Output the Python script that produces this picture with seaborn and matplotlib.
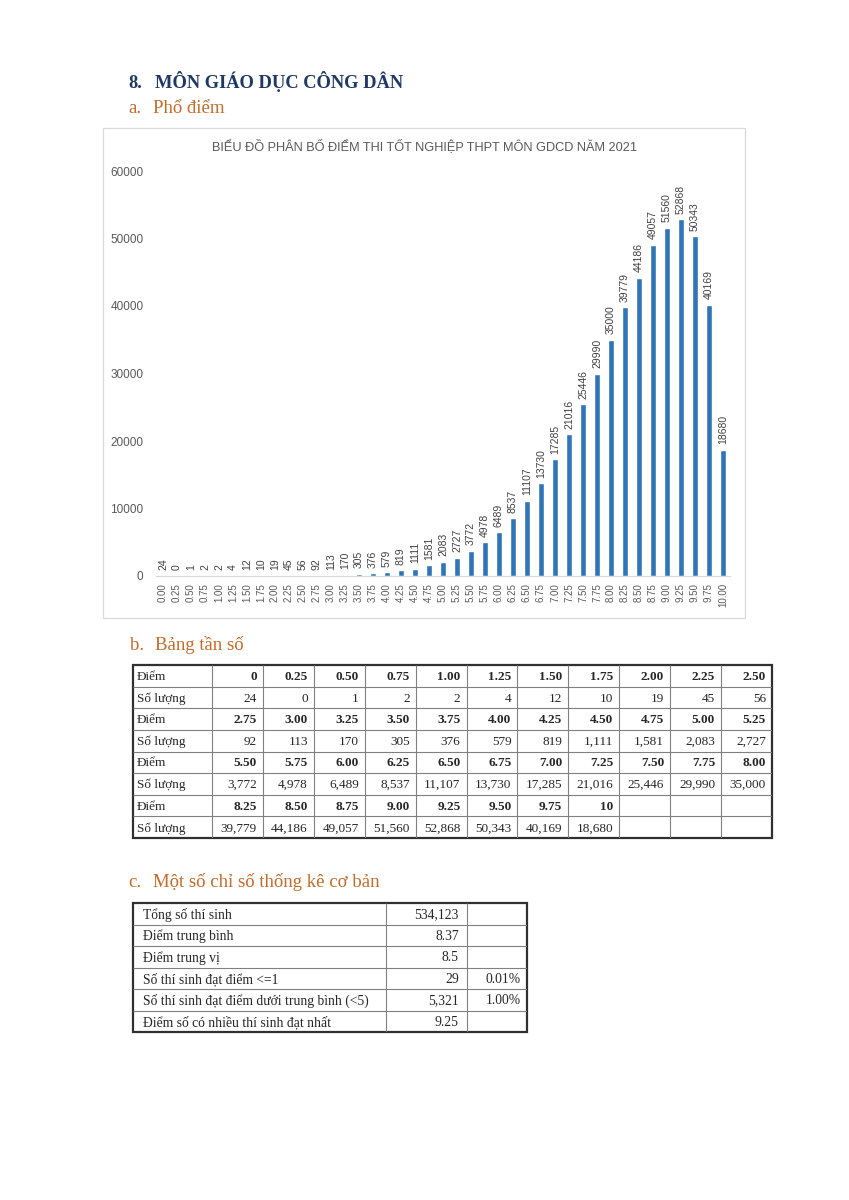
import numpy as np
import pandas as pd
import matplotlib
matplotlib.use("Agg")
import matplotlib.pyplot as plt
import seaborn as sns
from matplotlib.patches import Rectangle

sns.set_style("white")
plt.rcParams["font.family"] = ["Liberation Sans", "DejaVu Sans"]
SERIF = ["Liberation Serif", "DejaVu Serif"]

# ---- data ----
score_labels = ["0.00", "0.25", "0.50", "0.75", "1.00", "1.25", "1.50", "1.75",
                "2.00", "2.25", "2.50", "2.75", "3.00", "3.25", "3.50", "3.75",
                "4.00", "4.25", "4.50", "4.75", "5.00", "5.25", "5.50", "5.75",
                "6.00", "6.25", "6.50", "6.75", "7.00", "7.25", "7.50", "7.75",
                "8.00", "8.25", "8.50", "8.75", "9.00", "9.25", "9.50", "9.75",
                "10.00"]
counts = [24, 0, 1, 2, 2, 4, 12, 10, 19, 45,
          56, 92, 113, 170, 305, 376, 579, 819, 1111, 1581,
          2083, 2727, 3772, 4978, 6489, 8537, 11107, 13730, 17285, 21016,
          25446, 29990, 35000, 39779, 44186, 49057, 51560, 52868, 50343, 40169,
          18680]
table_scores = ["0"] + score_labels[1:-1] + ["10"]

stat_names = ["Tổng số thí sinh", "Điểm trung bình", "Điểm trung vị",
              "Số thí sinh đạt điểm <=1",
              "Số thí sinh đạt điểm dưới trung bình (<5)",
              "Điểm số có nhiều thí sinh đạt nhất"]
stat_values = ["534,123", "8.37", "8.5", "29", "5,321", "9.25"]
stat_pcts = ["", "", "", "0.01%", "1.00%", ""]

chart_title = "BIỂU ĐỒ PHÂN BỐ ĐIỂM THI TỐT NGHIỆP THPT MÔN GDCD NĂM 2021"
bar_color = "#3075b7"
head_color = "#1f3864"
sub_color = "#c26b2b"
W, H = 849, 1200


def fx(px):
    return px / W


def fy(py):
    return 1 - py / H


fig = plt.figure(figsize=(W / 100, H / 100), dpi=100)

# headings
fig.text(fx(128), fy(88), "8.", fontsize=13.3, fontweight="bold", color=head_color, family=SERIF)
fig.text(fx(155), fy(88), "MÔN GIÁO DỤC CÔNG DÂN", fontsize=13.3, fontweight="bold",
         color=head_color, family=SERIF)
subheads = [(128, 153, 113, "a.", "Phổ điểm"),
            (130, 155, 650, "b.", "Bảng tần số"),
            (128, 153, 887, "c.", "Một số chỉ số thống kê cơ bản")]
for x1, x2, y, letter, txt in subheads:
    fig.text(fx(x1), fy(y), letter, fontsize=13.5, color=sub_color, family=SERIF)
    fig.text(fx(x2), fy(y), txt, fontsize=13.5, color=sub_color, family=SERIF)

# ---- chart ----
fig.patches.append(Rectangle((fx(103), fy(618)), (745 - 103) / W, (618 - 128) / H,
                             transform=fig.transFigure, fill=False, ec="#d9d9d9", lw=0.9))
fig.text(fx(424), fy(146), chart_title, ha="center", va="center", fontsize=9.2, color="#595959")

ax = fig.add_axes([fx(156), fy(576), (730 - 156) / W, (576 - 171) / H])
df = pd.DataFrame({"score": score_labels, "count": counts})
sns.barplot(data=df, x="score", y="count", color=bar_color, saturation=1, width=0.45, ax=ax)
ax.bar_label(ax.containers[0], rotation=90, padding=4, fontsize=7.5, color="#404040")
ax.set_ylim(0, 60000)
ax.set_yticks(range(0, 60001, 10000))
ax.set_xlabel("")
ax.set_ylabel("")
ax.tick_params(axis="y", length=0, pad=9, labelsize=8.5, labelcolor="#595959")
ax.tick_params(axis="x", length=0, pad=5, labelsize=7, labelcolor="#595959", rotation=90)
for s in ["left", "top", "right"]:
    ax.spines[s].set_visible(False)
ax.spines["bottom"].set_color("#d9d9d9")
ax.patch.set_alpha(0)


def grid_table(rect, col_w, nrows):
    tax = fig.add_axes(rect)
    edges = np.concatenate([[0], np.cumsum(col_w)])
    tax.set_xlim(0, edges[-1])
    tax.set_ylim(nrows, 0)
    tax.axis("off")
    tax.vlines(edges[1:-1], 0, nrows, color="#808080", lw=0.8)
    tax.hlines(range(1, nrows), 0, edges[-1], color="#808080", lw=0.8)
    tax.add_patch(Rectangle((0, 0), edges[-1], nrows, fill=False, ec="#303030", lw=1.6,
                            clip_on=False))
    return tax, edges


# ---- frequency table ----
col_w1 = [79] + [50.9] * 11
tax1, e1 = grid_table([fx(133), fy(838), (772 - 133) / W, (838 - 665) / H], col_w1, 8)
for b in range(4):
    tax1.text(4, 2 * b + 0.55, "Điểm", va="center", fontsize=9.5, family=SERIF)
    tax1.text(4, 2 * b + 1.55, "Số lượng", va="center", fontsize=9.5, family=SERIF)
    for j in range(11):
        i = 11 * b + j
        if i >= len(counts):
            continue
        xr = e1[j + 2] - 6
        tax1.text(xr, 2 * b + 0.55, table_scores[i], ha="right", va="center",
                  fontsize=9.5, fontweight="bold", family=SERIF)
        tax1.text(xr, 2 * b + 1.55, f"{counts[i]:,}", ha="right", va="center",
                  fontsize=9.5, family=SERIF)

# ---- stats table ----
col_w2 = [253, 81, 60]
tax2, e2 = grid_table([fx(133), fy(1032), (527 - 133) / W, (1032 - 903) / H], col_w2, 6)
for r, (n, v, p) in enumerate(zip(stat_names, stat_values, stat_pcts)):
    tax2.text(10, r + 0.55, n, va="center", fontsize=9.8, family=SERIF)
    tax2.text(e2[2] - 8, r + 0.55, v, ha="right", va="center", fontsize=9.8, family=SERIF)
    if p:
        tax2.text(e2[3] - 6, r + 0.55, p, ha="right", va="center", fontsize=9.8, family=SERIF)

fig.savefig("out.png", dpi=100)
